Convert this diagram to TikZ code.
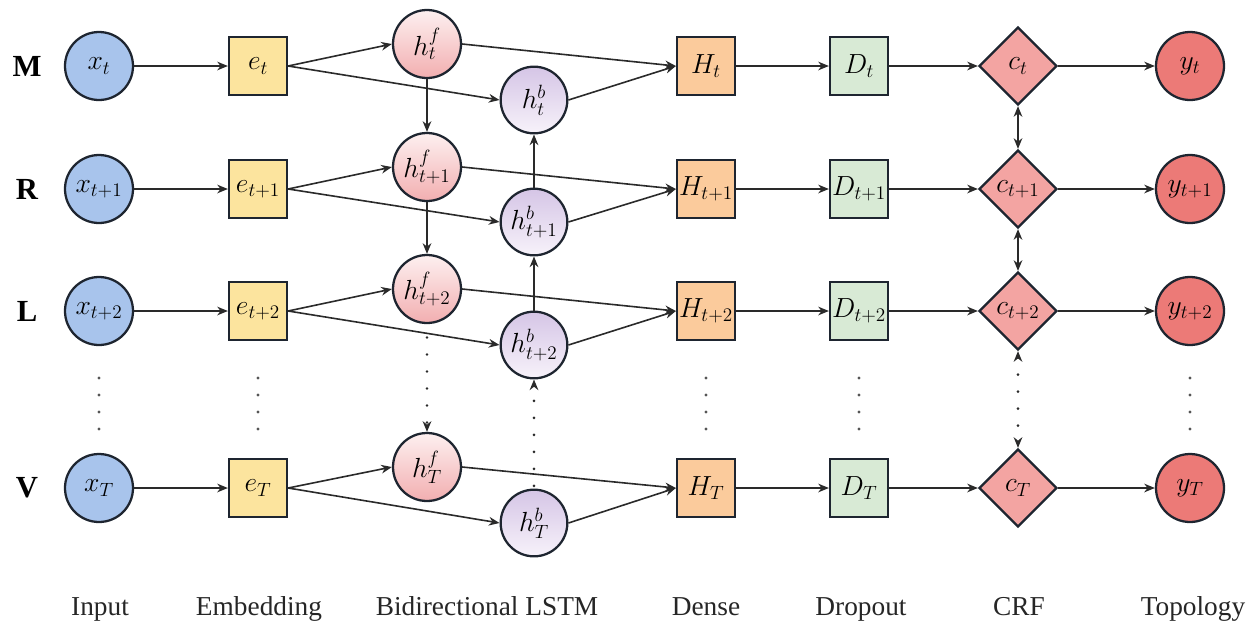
\documentclass[tikz,border=0pt]{standalone}
\usepackage{fontspec}
\newfontfamily\lblfont{Liberation Serif}
\usetikzlibrary{shapes.geometric,arrows.meta}
\definecolor{bordc}{HTML}{1E2530}
\definecolor{arrc}{HTML}{2A2A2A}
\definecolor{inpc}{HTML}{A8C4EC}
\definecolor{embc}{HTML}{FCE49E}
\definecolor{hftop}{HTML}{FDF0F0}
\definecolor{hfbot}{HTML}{F2AEB0}
\definecolor{hbtop}{HTML}{D5C5E6}
\definecolor{hbbot}{HTML}{F7F2FA}
\definecolor{denc}{HTML}{FBCB9C}
\definecolor{drpc}{HTML}{D8EAD5}
\definecolor{crfc}{HTML}{F3A4A2}
\definecolor{outc}{HTML}{EC7A77}
\begin{document}
\begin{tikzpicture}[x=0.75pt,y=-0.75pt,
  base/.style={draw=bordc, line width=1.7pt, inner sep=0pt, font=\fontsize{20}{22}\selectfont},
  inp/.style={base, circle, minimum size=51pt, fill=inpc},
  emb/.style={base, rectangle, minimum size=43.5pt, fill=embc},
  hfw/.style={base, circle, minimum size=51pt, top color=hftop, bottom color=hfbot},
  hbw/.style={base, circle, minimum size=50pt, top color=hbtop, bottom color=hbbot},
  den/.style={base, rectangle, minimum size=43.5pt, fill=denc},
  drp/.style={base, rectangle, minimum size=43.5pt, fill=drpc},
  crf/.style={base, diamond, minimum size=58.5pt, fill=crfc},
  outn/.style={base, circle, minimum size=51pt, fill=outc},
  arr/.style={line width=1.2pt, draw=arrc, -{Stealth[length=8pt,width=6.5pt]}},
  darr/.style={line width=1.2pt, draw=arrc, {Stealth[length=8pt,width=6.5pt]}-{Stealth[length=8pt,width=6.5pt]}},
  dotarr/.style={line width=2.2pt, draw=arrc, line cap=round, dash pattern=on 0pt off 12.75pt, -{Stealth[length=8pt,width=6.5pt]}},
  dotdarr/.style={line width=2.2pt, draw=arrc, line cap=round, dash pattern=on 0pt off 12.75pt, {Stealth[length=8pt,width=6.5pt]}-{Stealth[length=8pt,width=6.5pt]}},
  dotcol/.style={line width=2.4pt, draw=arrc!80, line cap=round, dash pattern=on 0pt off 12.75pt},
  rowlbl/.style={font=\lblfont\bfseries\fontsize{23}{26}\selectfont, text=black},
  collbl/.style={font=\lblfont\fontsize{20.5}{24}\selectfont, text=black!85, anchor=base}
]
\useasboundingbox (0,0) rectangle (1254,626);

% row labels
\node[rowlbl] (rM) at (27,66) {M};
\node[rowlbl] (rR) at (27,189) {R};
\node[rowlbl] (rL) at (27,311) {L};
\node[rowlbl] (rV) at (27,488) {V};

% input
\node[inp] (x1) at (99,66) {$x_t$};
\node[inp] (x2) at (99,189) {$x_{t+1}$};
\node[inp] (x3) at (99,311) {$x_{t+2}$};
\node[inp] (x4) at (99,488) {$x_T$};
% embedding
\node[emb] (e1) at (258,66) {$e_t$};
\node[emb] (e2) at (258,189) {$e_{t+1}$};
\node[emb] (e3) at (258,311) {$e_{t+2}$};
\node[emb] (e4) at (258,488) {$e_T$};
% forward
\node[hfw] (f1) at (427,44) {$h^f_t$};
\node[hfw] (f2) at (427,167) {$h^f_{t+1}$};
\node[hfw] (f3) at (427,289) {$h^f_{t+2}$};
\node[hfw] (f4) at (427,467) {$h^f_T$};
% backward
\node[hbw] (b1) at (534,100) {$h^b_t$};
\node[hbw] (b2) at (534,222) {$h^b_{t+1}$};
\node[hbw] (b3) at (534,345) {$h^b_{t+2}$};
\node[hbw] (b4) at (534,523) {$h^b_T$};
% dense
\node[den] (H1) at (706,66) {$H_t$};
\node[den] (H2) at (706,189) {$H_{t+1}$};
\node[den] (H3) at (706,311) {$H_{t+2}$};
\node[den] (H4) at (706,488) {$H_T$};
% dropout
\node[drp] (D1) at (859,66) {$D_t$};
\node[drp] (D2) at (859,189) {$D_{t+1}$};
\node[drp] (D3) at (859,311) {$D_{t+2}$};
\node[drp] (D4) at (859,488) {$D_T$};
% crf
\node[crf] (c1) at (1018,66) {$c_t$};
\node[crf] (c2) at (1018,189) {$c_{t+1}$};
\node[crf] (c3) at (1018,311) {$c_{t+2}$};
\node[crf] (c4) at (1018,488) {$c_T$};
% output
\node[outn] (y1) at (1190,66) {$y_t$};
\node[outn] (y2) at (1190,189) {$y_{t+1}$};
\node[outn] (y3) at (1190,311) {$y_{t+2}$};
\node[outn] (y4) at (1190,488) {$y_T$};

\foreach \i in {1,2,3,4}{
  \draw[arr] (x\i) -- (e\i);
  \draw[arr] (e\i.east) -- (f\i.west);
  \draw[arr] (e\i.east) -- (b\i.west);
  \draw[arr] (f\i.east) -- (H\i.west);
  \draw[arr] (b\i.east) -- (H\i.west);
  \draw[arr] (H\i) -- (D\i);
  \draw[arr] (D\i) -- (c\i);
  \draw[arr] (c\i) -- (y\i);
}
\draw[arr] (f1) -- (f2);
\draw[arr] (f2) -- (f3);
\draw[arr] (b2) -- (b1);
\draw[arr] (b3) -- (b2);
\draw[darr] (c1.south) -- (c2.north);
\draw[darr] (c2.south) -- (c3.north);
\draw[dotarr, shorten <=10pt] (f3.south) -- (f4.north);
\draw[dotarr, shorten <=2pt] (b4.north) -- (b3.south);
\draw[dotdarr] (c3.south) -- (c4.north);

% column ellipses
\coordinate (d1a) at (99,378);   \coordinate (d1b) at (99,431);
\coordinate (d2a) at (258,378);  \coordinate (d2b) at (258,431);
\coordinate (d3a) at (706,378);  \coordinate (d3b) at (706,431);
\coordinate (d4a) at (859,378);  \coordinate (d4b) at (859,431);
\coordinate (d5a) at (1190,378); \coordinate (d5b) at (1190,431);
\foreach \k in {1,...,5}{ \draw[dotcol] (d\k a) -- (d\k b); }

% column labels
\node[collbl] (l1) at (100,615) {Input};
\node[collbl] (l2) at (259,615) {Embedding};
\node[collbl] (l3) at (487,615) {Bidirectional LSTM};
\node[collbl] (l4) at (706,615) {Dense};
\node[collbl] (l5) at (861,615) {Dropout};
\node[collbl] (l6) at (1019,615) {CRF};
\node[collbl] (l7) at (1193,615) {Topology};
\end{tikzpicture}
\end{document}
